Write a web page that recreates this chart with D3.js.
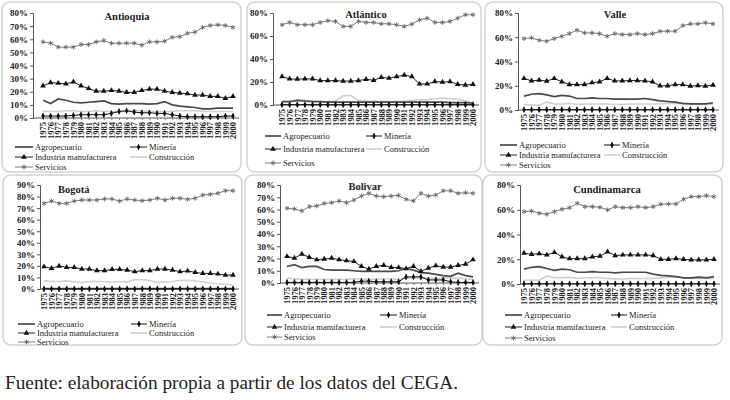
<!DOCTYPE html>
<html><head><meta charset="utf-8">
<script src="https://cdn.jsdelivr.net/npm/d3@7"></script>
<style>
body{margin:0;background:#fff}
svg{display:block}
text{font-family:"Liberation Serif","Times New Roman",serif;fill:#222}
</style>
</head><body>
<svg id="c" width="730" height="400"></svg>
<script>
// ---------- DATA ----------
const years = ["1975","1976","1977","1978","1979","1980","1981","1982","1983","1984","1985","1986","1987",
               "1988","1989","1990","1991","1992","1993","1994","1995","1996","1997","1998","1999","2000"];
const seriesNames = ["Agropecuario","Minería","Industria manufacturera","Construcción","Servicios"];
const regionNames = ["Antioquia","Atlántico","Valle","Bogotá","Bolivar","Cundinamarca"];

const ticksAntioquia    = [0,10,20,30,40,50,60,70,80];
const ticksAtlantico    = [0,20,40,60,80];
const ticksValle        = [0,20,40,60,80];
const ticksBogota       = [0,10,20,30,40,50,60,70,80,90];
const ticksBolivar      = [0,10,20,30,40,50,60,70,80];
const ticksCundinamarca = [0,20,40,60,80];

// Antioquia
const antioquiaAgro = [13.5,11,14.5,13.5,12,11.5,12,12.5,13,11,10.5,11,11,11,10.5,11,12.5,10,9,8.5,8,7,7,7.5,7.5,7.5];
const antioquiaMin  = [1.5,1.5,1.5,1.5,2,2.5,2.5,2.5,2.5,3.5,5,5.5,4.5,4,4,3.5,3.5,2.5,1.5,1,1,1,1,1,1.5,1.5];
const antioquiaInd  = [24.5,27,26.5,26,27.5,24.5,22.5,20.5,20.5,21,20.5,19.5,19.5,21,22,22,20.5,19.5,19,18.5,17.5,17.5,16.5,16.5,15,16.5];
const antioquiaCons = [5,5,5,5.5,5.5,5,5,5.5,5,5,4.5,5.5,6,5.5,5,5,5,5,5.5,5.5,5.5,5,5,5,5,5];
const antioquiaServ = [58,57,54,54,54,56,56,58,59,57,57,57,57,55.5,58,58,58.5,61.5,62,64.5,65.5,69,70.5,71,70.5,69];
// Atlántico
const atlanticoAgro = [3,3,4,3.5,3,3,2.5,2.5,2.5,2.5,2.5,2.5,2.5,2.5,2.5,2.5,2.5,2.5,2.5,2.5,2.5,2.5,2,2,2,1.5];
const atlanticoMin  = [0.3,0.3,0.3,0.3,0.3,0.3,0.3,0.3,0.3,0.3,0.3,0.3,0.3,0.3,0.3,0.3,0.3,0.3,0.3,0.3,0.3,0.3,0.3,0.3,0.3,0.3];
const atlanticoInd  = [24.7,22.7,22.5,22.7,22.7,21.2,21.2,21.2,20.8,20.8,21.2,22.4,21.5,24,23.3,24.7,26,24.7,18.3,18.3,20.3,20,20.3,18,17.4,18];
const atlanticoCons = [3,3,4.5,4,3,3,3,3.5,8,8.5,4,3.5,3.5,3,3,3,3.5,4,4.5,4.5,5.5,6,5.5,5,3.5,2];
const atlanticoServ = [69.8,71.8,69.8,69.8,69.8,71.8,73.3,72.7,68.3,68.3,72.7,71.8,71.8,70.6,70.6,69.8,68.3,70.3,74,75.5,71.8,71.8,72.7,75.5,78.5,78.5];
// Valle
const valleAgro = [11.5,13,13.5,12.5,11,12,11.5,9.5,9.5,10,9.5,9.5,9,9,9,9,9.5,8.5,7.5,7,6.5,5.5,5,5,5,6];
const valleMin  = [0.3,0.3,0.3,0.3,0.3,0.3,0.3,0.3,0.3,0.3,0.3,0.3,0.3,0.3,0.3,0.3,0.3,0.3,0.3,0.3,0.3,0.3,0.3,0.3,0.3,0.3];
const valleInd  = [26,24,24.7,23.8,26,23.3,21,21,21,22.5,23.3,26,24,24,24.3,24.3,24,23.3,20,20,21,21,19.7,20.2,19.7,20.5];
const valleCons = [4.5,4,4,6.5,5,5,5.5,4.5,5,5,5,5,4.5,4.5,5,5,5,5,5,5.5,5.5,5,5,5,4.5,4.5];
const valleServ = [58.9,59.5,57.5,56.7,58.9,60.8,63,65.8,63.6,63.6,63,60.8,63,62.2,62.2,63,62.2,63,64.9,65,65,69.6,71,71,72,71];
// Bogotá
const bogotaAgro = [0.4,0.4,0.4,0.4,0.4,0.4,0.4,0.4,0.4,0.4,0.4,0.4,0.4,0.4,0.4,0.4,0.4,0.4,0.4,0.4,0.4,0.4,0.4,0.4,0.4,0.4];
const bogotaMin  = [0.1,0.1,0.1,0.1,0.1,0.1,0.1,0.1,0.1,0.1,0.1,0.1,0.1,0.1,0.1,0.1,0.1,0.1,0.1,0.1,0.1,0.1,0.1,0.1,0.1,0.1];
const bogotaInd  = [19.3,17.9,19.9,18.7,18.7,17.3,17.3,15.9,15.9,17,17,16.4,15,15.9,15.9,17.3,17.3,16.4,15,15.6,14.4,13.5,13.5,13,12.1,12.1];
const bogotaCons = [7,6.5,6.5,7,6,5.5,6.5,6.5,6.5,6,6.5,6,8,8,7.5,5.5,6,6.5,7.5,7.5,7,6,5,4.5,4,3.5];
const bogotaServ = [74.1,76.1,74.1,74.1,76.1,77,77,77,77.9,77.9,76.1,77.9,77,76.4,77,78.5,77,78.5,78.5,77.6,78.5,81.3,81.9,82.8,85.1,85.1];
// Bolívar
const bolivarAgro = [13.5,15,12.5,13.5,13.5,11,10.5,10.5,10.5,10,9.5,9.5,9.5,9.5,9.5,10,12,10.5,8.5,8,7,6,5.5,8,6,5];
const bolivarMin  = [0.5,0.5,0.5,0.5,0.5,0.5,0.5,0.5,0.5,0.5,1.5,1.5,1,1,1,1,5,5,5,2.5,2.5,2.5,1,0.5,0.5,0.5];
const bolivarInd  = [21.7,20.3,23.6,20.9,19,19.5,20.3,19,18.2,17.6,13.6,11.4,13.6,14.4,12.7,12.7,11.7,13.6,9.5,12.2,14.1,13,13,14.4,15.4,19];
const bolivarCons = [4,3.5,3,3,3,3,3,3,3,3.5,3.5,3,3,3.5,3.5,3,4,4,4,4,4,4,4,4,3.5,3];
const bolivarServ = [61,60.5,58.9,62.4,62.9,65,65.6,67,65.6,67.8,71,73.2,71,70.5,71,71.5,68.3,67,73.2,71,71.8,75.3,75.3,73.2,73.7,73.2];
// Cundinamarca
const cundinamarcaAgro = [12,13.5,14,12.5,11,12,11.5,9.5,9.5,10,9.5,9.5,9,9.5,9.5,9.5,9.5,8,7,6.5,6,5,5,5.5,5,6];
const cundinamarcaMin  = [0.2,0.2,0.2,0.2,0.2,0.2,0.2,0.2,0.2,0.2,0.2,0.2,0.2,0.2,0.2,0.2,0.2,0.2,0.2,0.2,0.2,0.2,0.2,0.2,0.2,0.2];
const cundinamarcaInd  = [25,24,24.5,23.5,25.5,22,20.5,20.5,20.5,22,22.5,26,23,23.5,23.5,23.5,23.5,23,20,20,20.5,20,19.5,19.5,19.5,20];
const cundinamarcaCons = [3,3,3,6.5,5,5,5.5,4.5,5,5,5,4.5,4,4,4.5,4.5,4.5,4.5,5,5.5,6,5,4.5,4.5,4.5,4.5];
const cundinamarcaServ = [58.5,59,57.2,56.4,58.5,60.4,61.7,65.2,62.5,62.5,62,59.9,62.5,61.7,61.7,62.5,61.7,62.5,64.4,64.7,64.7,68.5,70.6,70.6,71.4,70.6];

const sourceNote = "Fuente: elaboración propia a partir de los datos del CEGA.";

// ---------- LAYOUT / STYLE ----------
const regionData = [
  [antioquiaAgro,antioquiaMin,antioquiaInd,antioquiaCons,antioquiaServ],
  [atlanticoAgro,atlanticoMin,atlanticoInd,atlanticoCons,atlanticoServ],
  [valleAgro,valleMin,valleInd,valleCons,valleServ],
  [bogotaAgro,bogotaMin,bogotaInd,bogotaCons,bogotaServ],
  [bolivarAgro,bolivarMin,bolivarInd,bolivarCons,bolivarServ],
  [cundinamarcaAgro,cundinamarcaMin,cundinamarcaInd,cundinamarcaCons,cundinamarcaServ]
];
const regionTicks = [ticksAntioquia,ticksAtlantico,ticksValle,ticksBogota,ticksBolivar,ticksCundinamarca];

const layout = [
  {box:[2,2,239,170],   ax:33,  x0:43,  x1:233, yT:13,  yB:118, title:[127,20,"middle"], leg:{rows:[147,157,167], c1:[15,33], c2:[130,147]}},
  {box:[247,2,234,170], ax:273, x0:282, x1:473, yT:13,  yB:105, title:[366,18,"middle"], leg:{rows:[136,149,163], c1:[265,281], c2:[366,382]}},
  {box:[485,2,238,170], ax:518, x0:524, x1:713, yT:13,  yB:110, title:[615,18,"middle"], leg:{rows:[145,155,165], c1:[500,517], c2:[604,620]}},
  {box:[3,175,239,170], ax:40,  x0:44,  x1:233, yT:185, yB:289, title:[58,193,"start"],  leg:{rows:[324,333,342], c1:[18,35],  c2:[131,147]}},
  {box:[245,175,237,170],ax:280,x0:287, x1:473, yT:185, yB:283, title:[365,190,"middle"], leg:{rows:[315,327,337], c1:[267,282], c2:[380,397]}},
  {box:[483,175,239,170],ax:520,x0:524, x1:714, yT:185, yB:284, title:[607,193,"middle"], leg:{rows:[315,327,338], c1:[505,522], c2:[611,627]}}
];

const styles = [
  {stroke:"#4a4a4a", w:1.7, marker:null},
  {stroke:"#111",    w:1.0, marker:"diamond"},
  {stroke:"#222",    w:1.0, marker:"triangle"},
  {stroke:"#cfcfcf", w:1.6, marker:null},
  {stroke:"#7c7c7c", w:1.0, marker:"asterisk"}
];
const legendSlots = [{col:1,row:0},{col:2,row:0},{col:1,row:1},{col:2,row:1},{col:1,row:2}];
const drawOrder = [3,0,4,2,1];
const serifStack = "'Liberation Serif','Times New Roman',serif";

const svg = d3.select("#c");

function drawMarker(g, type, x, y){
  if(type==="diamond"){
    g.append("path").attr("d", d3.symbol(d3.symbolDiamond, 11)())
      .attr("transform",`translate(${x},${y})`).attr("fill","#111");
    g.append("line").attr("x1",x).attr("x2",x).attr("y1",y-3).attr("y2",y+3).attr("stroke","#111").attr("stroke-width",0.8);
  } else if(type==="triangle"){
    g.append("path").attr("d", d3.symbol(d3.symbolTriangle, 14)())
      .attr("transform",`translate(${x},${y})`).attr("fill","#111");
  } else if(type==="asterisk"){
    g.append("path").attr("d", d3.symbol(d3.symbolAsterisk, 16)())
      .attr("transform",`translate(${x},${y})`).attr("fill","none").attr("stroke","#666").attr("stroke-width",0.9);
  }
}

layout.forEach((L, i) => {
  const g = svg.append("g").attr("font-family", serifStack);
  g.append("rect").attr("x",L.box[0]).attr("y",L.box[1]).attr("width",L.box[2]).attr("height",L.box[3])
    .attr("rx",8).attr("fill","#fff").attr("stroke","#d2d2d2").attr("stroke-width",1.5);

  const ticks = regionTicks[i];
  const y = d3.scaleLinear().domain([0, d3.max(ticks)]).range([L.yB, L.yT]);
  const x = d3.scalePoint().domain(years).range([L.x0, L.x1]);

  const ya = g.append("g").attr("transform",`translate(${L.ax},0)`)
    .call(d3.axisLeft(y).tickValues(ticks).tickFormat(d=>d+"%").tickSize(3).tickPadding(2));
  ya.attr("font-family", serifStack);
  ya.select(".domain").attr("stroke","#555");
  ya.selectAll(".tick line").attr("stroke","#555");
  ya.selectAll("text").attr("font-size",9).attr("font-weight","bold").attr("fill","#333")
    .style("font-family",serifStack);

  const xa = g.append("g").attr("transform",`translate(0,${L.yB})`)
    .call(d3.axisBottom(x).tickSize(2).tickPadding(3));
  xa.attr("font-family", serifStack);
  xa.select(".domain").attr("stroke","#555").attr("d",`M${L.ax},0H${L.x1+6}`);
  xa.selectAll(".tick line").attr("stroke","#777");
  xa.selectAll("text").attr("font-size",8.5).attr("font-weight","bold").attr("fill","#333")
    .style("font-family",serifStack)
    .attr("text-anchor","end").attr("dy","0.32em").attr("y",0)
    .attr("transform","translate(0,4) rotate(-90)");

  g.append("text").attr("x",L.title[0]).attr("y",L.title[1]).attr("text-anchor",L.title[2])
    .attr("font-size",10.5).attr("font-weight","bold").style("font-family",serifStack).text(regionNames[i]);

  const data = regionData[i];
  const line = d3.line().x((d,k)=>x(years[k])).y(d=>y(d));
  drawOrder.forEach(s => {
    const st = styles[s];
    g.append("path").datum(data[s]).attr("d",line).attr("fill","none")
      .attr("stroke",st.stroke).attr("stroke-width",st.w);
    if(st.marker){
      data[s].forEach((v,k)=> drawMarker(g, st.marker, x(years[k]), y(v)));
    }
  });

  legendSlots.forEach((slot, s) => {
    const st = styles[s];
    const c = slot.col===1 ? L.leg.c1 : L.leg.c2;
    const yy = L.leg.rows[slot.row];
    g.append("line").attr("x1",c[0]).attr("x2",c[1]).attr("y1",yy).attr("y2",yy)
      .attr("stroke",st.stroke).attr("stroke-width",st.w);
    if(st.marker) drawMarker(g, st.marker, (c[0]+c[1])/2, yy);
    g.append("text").attr("x",c[1]+2).attr("y",yy).attr("dy","0.32em")
      .attr("font-size",8.5).attr("fill","#333").style("font-family",serifStack).text(seriesNames[s]);
  });
});

svg.append("text").attr("x",5).attr("y",389).attr("font-size",19.3).attr("fill","#111")
  .style("font-family",serifStack).text(sourceNote);
</script>
</body></html>
